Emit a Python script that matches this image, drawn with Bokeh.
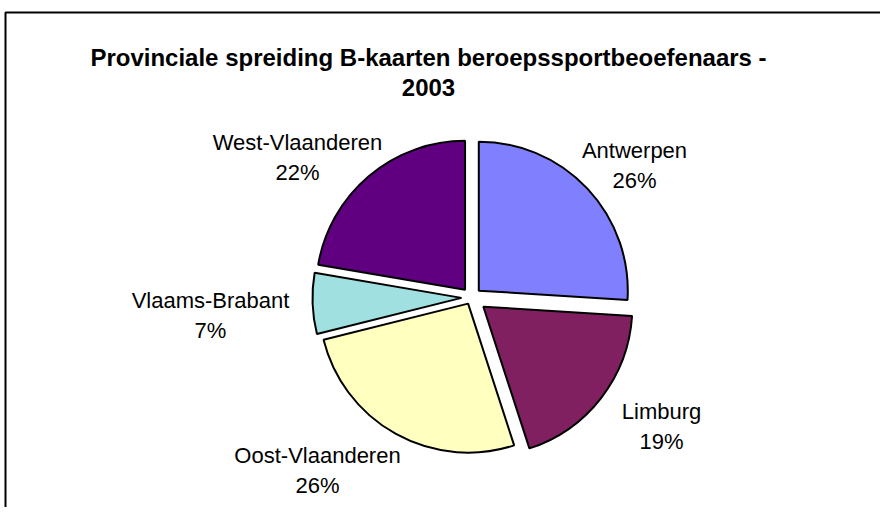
import numpy as np
from bokeh.plotting import figure
from bokeh.models import Range1d, ColumnDataSource
from bokeh.core.properties import value
from bokeh.embed import file_html
from bokeh.resources import INLINE

# ---- data ----
title_lines = ["Provinciale spreiding B-kaarten beroepssportbeoefenaars -", "2003"]
provinces = ["Antwerpen", "Limburg", "Oost-Vlaanderen", "Vlaams-Brabant", "West-Vlaanderen"]
shares = [26.0, 19.0, 26.1, 6.6, 22.3]

# ---- style / layout ----
colors = ["#8080FF", "#802060", "#FFFFC0", "#A0E0E0", "#600080"]
explode = np.array([10, 15, 7, 10, 10])  # px offset of each slice along its bisector
label_pos = [(634, 165), (661, 426), (317, 470), (210, 315), (297, 157)]  # page px, label centre
FONT = "Liberation Sans"
W, H = 880, 507


def py(page_y):
    return 515 - page_y


# data coordinates == page pixels (y flipped); figure sits at page (0, 0)
p = figure(width=W, height=H, x_range=Range1d(0, W), y_range=Range1d(515 - H, 515),
           output_backend="svg", toolbar_location=None, min_border=0,
           x_axis_location=None, y_axis_location=None)
p.grid.visible = False
p.outline_line_color = None
p.background_fill_color = "white"
p.border_fill_color = "white"

# chart border (top + left visible)
p.line(x=[5, 5, 880], y=[py(515), py(12), py(12)], line_color="black", line_width=2)

# pie
vals = np.array(shares, dtype=float)
frac = vals / vals.sum()
cum_end = np.cumsum(frac)
cum_start = cum_end - frac
start_ang = np.pi / 2 - 2 * np.pi * cum_end
end_ang = np.pi / 2 - 2 * np.pi * cum_start
mid = (start_ang + end_ang) / 2
cx, cy = 471, py(297)
src = ColumnDataSource(dict(
    x=cx + explode * np.cos(mid), y=cy + explode * np.sin(mid),
    start=start_ang, end=end_ang, color=colors, name=provinces,
))
p.wedge(x="x", y="y", radius=149, start_angle="start", end_angle="end",
        direction="anticlock", fill_color="color", line_color="black",
        line_width=2, source=src)

# labels
pct = [f"{int(round(f * 100))}%" for f in frac]
lx = [lp[0] for lp in label_pos]
ly1 = [py(lp[1] - 15) for lp in label_pos]
ly2 = [py(lp[1] + 15) for lp in label_pos]
p.text(x=lx, y=ly1, text=provinces, text_align="center", text_baseline="middle",
       text_font=value(FONT), text_font_size="22px", text_color="black")
p.text(x=lx, y=ly2, text=pct, text_align="center", text_baseline="middle",
       text_font=value(FONT), text_font_size="22px", text_color="black")

# title
p.text(x=[428, 428], y=[py(57), py(87)], text=title_lines, text_align="center",
       text_baseline="middle", text_font=value(FONT), text_font_size="24px",
       text_font_style="bold", text_color="black")

open("out.html", "w").write(file_html(p, INLINE))
